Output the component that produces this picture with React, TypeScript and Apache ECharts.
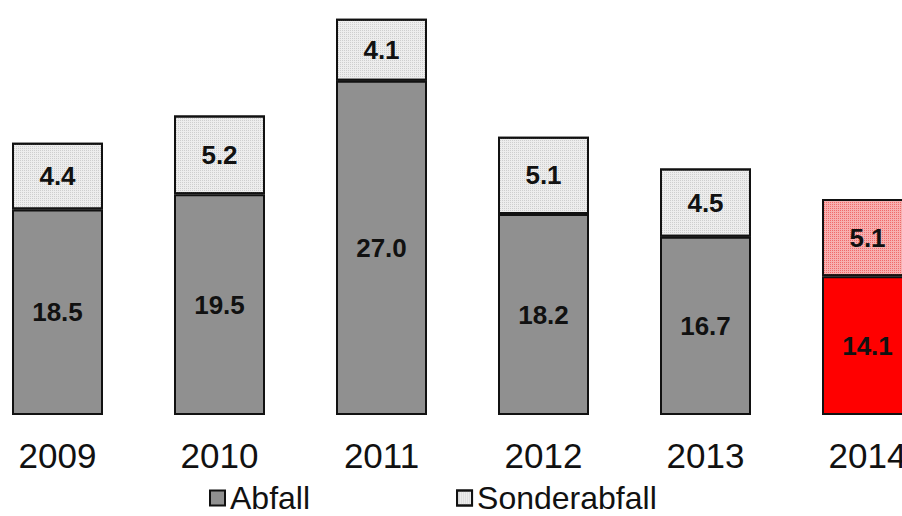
import React, { useEffect, useRef } from "react";
import * as echarts from "echarts";

const categories = ["2009", "2010", "2011", "2012", "2013", "2014"];
const abfall = [18.5, 19.5, 27.0, 18.2, 16.7, 14.1];
const sonderabfall = [4.4, 5.2, 4.1, 5.1, 4.5, 5.1];
const highlightIndex = 5;

export default function App() {
  const ref = useRef<HTMLDivElement>(null);
  useEffect(() => {
    if (!ref.current) return;
    const chart = echarts.init(ref.current, undefined, { renderer: "svg" });
    const grayDecal = {
      symbol: "rect",
      symbolSize: 1,
      dashArrayX: [1, 1],
      dashArrayY: [1, 1],
      color: "rgba(175,175,175,0.5)",
      rotation: 0,
    };
    const pinkDecal = {
      symbol: "rect",
      symbolSize: 1,
      dashArrayX: [1, 1],
      dashArrayY: [1, 1],
      color: "rgba(235,60,60,0.6)",
      rotation: 0,
    };
    const font = "Liberation Sans, Arial, sans-serif";
    const labelStyle = {
      show: true,
      position: "inside" as const,
      fontSize: 26,
      fontWeight: "bold" as const,
      fontFamily: font,
      color: "#111",
      formatter: (p: any) => Number(p.value).toFixed(1),
    };
    chart.setOption({
      animation: false,
      backgroundColor: "#fff",
      grid: {
        left: -23.5,
        width: 972,
        top: 5,
        bottom: 102,
        containLabel: false,
        outerBoundsMode: "none",
      },
      xAxis: {
        type: "category",
        data: categories,
        axisLine: { show: false },
        axisTick: { show: false },
        axisLabel: {
          fontSize: 35,
          color: "#111",
          margin: 24,
          fontFamily: font,
          hideOverlap: false,
          showMaxLabel: true,
        },
      },
      yAxis: {
        type: "value",
        min: 5,
        max: 32,
        show: false,
        splitLine: { show: false },
      },
      legend: {
        left: 204,
        top: 477,
        itemWidth: 15,
        itemHeight: 15,
        itemGap: 146,
        itemTextGap: 5,
        icon: "rect",
        textStyle: {
          fontSize: 32,
          lineHeight: 32,
          color: "#111",
          fontFamily: font,
        },
        data: ["Abfall", "Sonderabfall"],
      },
      series: [
        {
          name: "Abfall",
          type: "bar",
          stack: "total",
          barWidth: 91,
          itemStyle: { color: "#909090", borderColor: "#111", borderWidth: 2 },
          label: labelStyle,
          data: abfall.map((v, i) =>
            i === highlightIndex
              ? { value: v, itemStyle: { color: "#ff0000" } }
              : v
          ),
        },
        {
          name: "Sonderabfall",
          type: "bar",
          stack: "total",
          barWidth: 91,
          itemStyle: {
            color: "#ededed",
            borderColor: "#111",
            borderWidth: 2,
            decal: grayDecal,
          },
          label: labelStyle,
          data: sonderabfall.map((v, i) =>
            i === highlightIndex
              ? { value: v, itemStyle: { color: "#f7b0b0", decal: pinkDecal } }
              : v
          ),
        },
      ],
    });
    return () => chart.dispose();
  }, []);
  return (
    <div
      ref={ref}
      style={{ position: "fixed", left: 0, top: 0, width: 902, height: 516 }}
    />
  );
}
